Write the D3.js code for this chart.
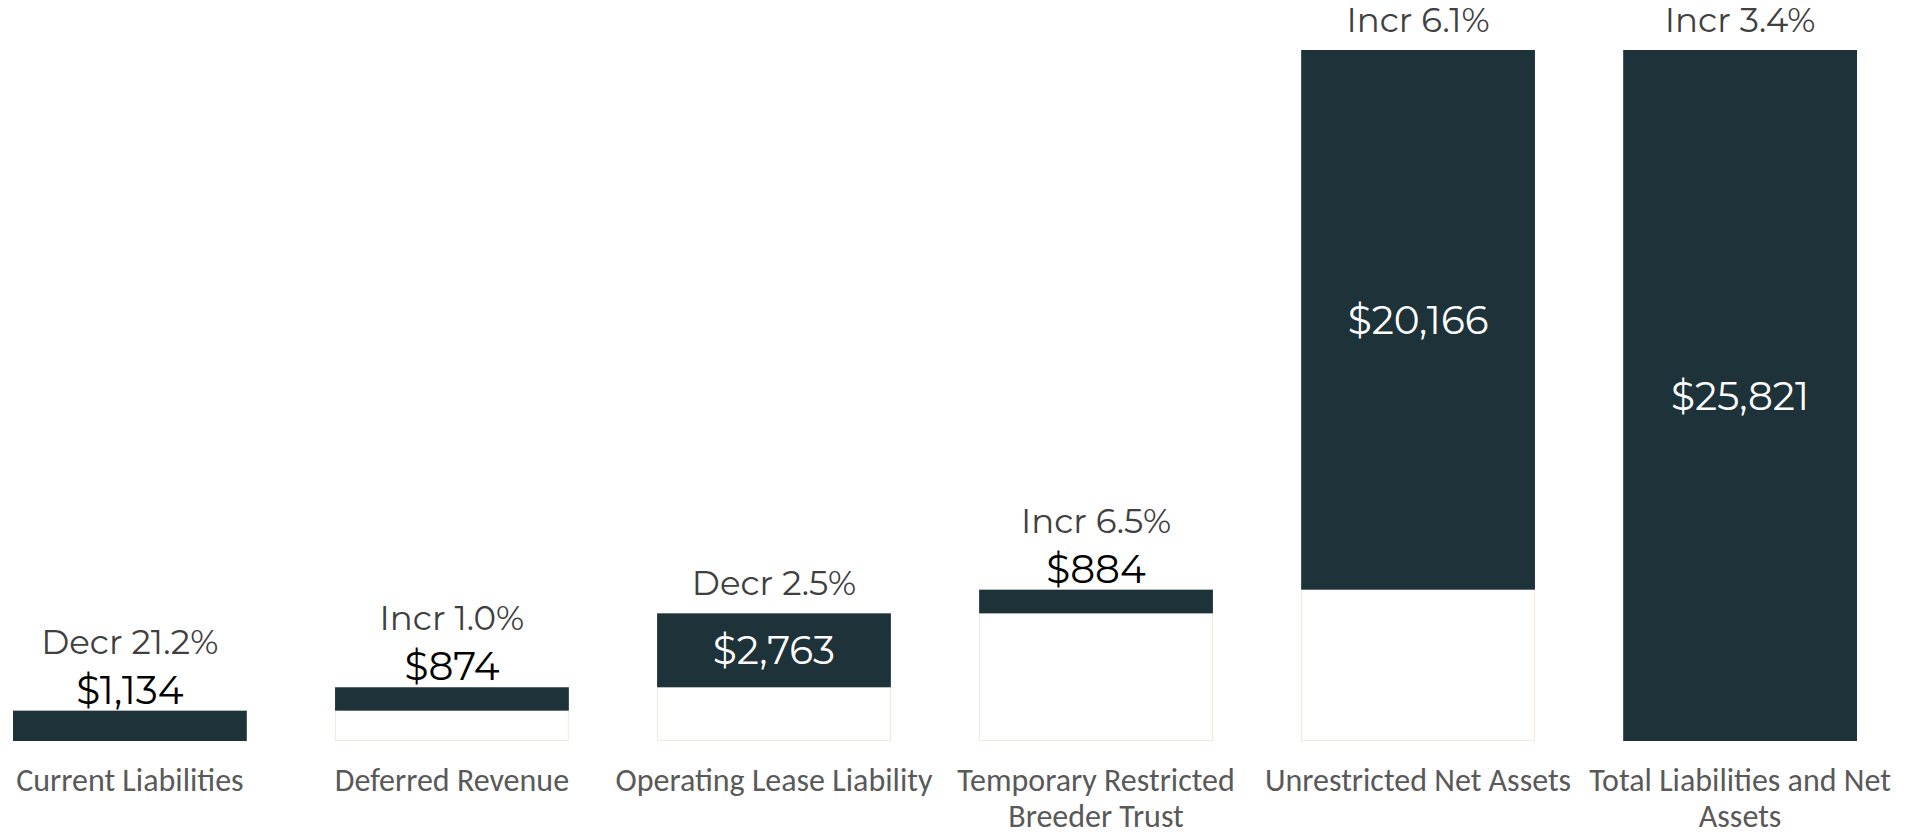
<!DOCTYPE html>
<html>
<head>
<meta charset="utf-8">
<script src="https://cdn.jsdelivr.net/npm/d3@7"></script>
<style>
  html, body { margin: 0; padding: 0; background: #ffffff; }
  svg { display: block; }
</style>
</head>
<body>
<svg id="chart" width="1908" height="836"></svg>
<script>
const categories = [
  "Current Liabilities",
  "Deferred Revenue",
  "Operating Lease Liability",
  "Temporary Restricted Breeder Trust",
  "Unrestricted Net Assets",
  "Total Liabilities and Net Assets"
];
const values = [1134, 874, 2763, 884, 20166, 25821];
const isTotal = [false, false, false, false, false, true];
const changeLabels = ["Decr 21.2%", "Incr 1.0%", "Decr 2.5%", "Incr 6.5%", "Incr 6.1%", "Incr 3.4%"];

const W = 1908, H = 836;
const barColor = "#1e3239";
const svg = d3.select("#chart");
svg.append("rect").attr("width", W).attr("height", H).attr("fill", "#ffffff");

// build waterfall
let run = 0;
const rows = categories.map((c, i) => {
  let start, end;
  if (isTotal[i]) { start = 0; end = values[i]; }
  else { start = run; end = run + values[i]; run = end; }
  return { cat: c, value: values[i], start, end, change: changeLabels[i], total: isTotal[i] };
});

const x = d3.scaleBand().domain(categories).range([13, 1857]).paddingInner(0.274).paddingOuter(0);
const y = d3.scaleLinear().domain([0, d3.max(rows, d => d.end)]).range([741, 50]);

// invisible base bars (waterfall spacers)
svg.append("g").selectAll("rect").data(rows.filter(d => d.start > 0)).join("rect")
  .attr("x", d => x(d.cat) + 0.5)
  .attr("y", d => y(d.start))
  .attr("width", x.bandwidth() - 1)
  .attr("height", d => y(0) - y(d.start) - 0.5)
  .attr("fill", "#ffffff")
  .attr("stroke", "#f1e9de")
  .attr("stroke-width", 1);

// value bars
svg.append("g").selectAll("rect").data(rows).join("rect")
  .attr("x", d => x(d.cat))
  .attr("y", d => y(d.end))
  .attr("width", x.bandwidth())
  .attr("height", d => y(d.start) - y(d.end))
  .attr("fill", barColor);

const fmt = d3.format("$,");
const labelFont = "Montserrat, Inter, 'Noto Sans', sans-serif";

rows.forEach(d => {
  const cx = x(d.cat) + x.bandwidth() / 2;
  const top = y(d.end);
  const h = y(d.start) - y(d.end);
  const inside = h > 50;
  let pctBase;
  if (inside) {
    svg.append("text")
      .attr("x", cx).attr("y", (y(d.start) + y(d.end)) / 2)
      .attr("text-anchor", "middle").attr("dominant-baseline", "central")
      .attr("font-family", labelFont).attr("font-size", 39)
      .attr("fill", "#ffffff").text(fmt(d.value));
    pctBase = top - 18;
  } else {
    const vb = top - 7;
    svg.append("text")
      .attr("x", cx).attr("y", vb)
      .attr("text-anchor", "middle")
      .attr("font-family", labelFont).attr("font-size", 39)
      .attr("fill", "#000000").text(fmt(d.value));
    pctBase = vb - 50;
  }
  svg.append("text")
    .attr("x", cx).attr("y", pctBase)
    .attr("text-anchor", "middle")
    .attr("font-family", labelFont).attr("font-size", 34)
    .attr("fill", "#404040").text(d.change);
});

// category axis labels with wrapping
const catFont = "Carlito, Calibri, Lato, sans-serif";
const maxW = x.step() - 2;
const g = svg.append("g");
rows.forEach(d => {
  const cx = x(d.cat) + x.bandwidth() / 2;
  const t = g.append("text")
    .attr("x", cx).attr("y", 791)
    .attr("text-anchor", "middle")
    .attr("font-family", catFont).attr("font-size", 32)
    .attr("fill", "#595959");
  const words = d.cat.split(" ");
  let line = [];
  let lineNo = 0;
  let ts = t.append("tspan").attr("x", cx).attr("y", 791);
  words.forEach(w => {
    line.push(w);
    ts.text(line.join(" "));
    if (ts.node().getComputedTextLength() > maxW && line.length > 1) {
      line.pop();
      ts.text(line.join(" "));
      line = [w];
      lineNo++;
      ts = t.append("tspan").attr("x", cx).attr("y", 791 + lineNo * 36).text(w);
    }
  });
});
</script>
</body>
</html>
